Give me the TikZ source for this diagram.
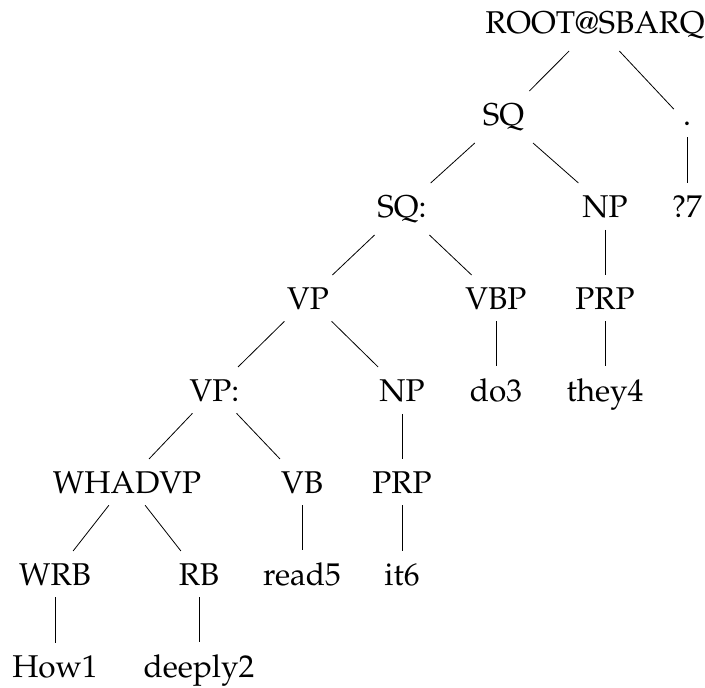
\documentclass[tikz,border=0pt]{standalone}
\usepackage[T1]{fontenc}
\usepackage{mathpazo}
\begin{document}
\begin{tikzpicture}[x=1pt,y=-1pt,
  tn/.style={anchor=base, inner sep=12pt, font=\fontsize{31.5}{38}\selectfont},
  br/.style={line width=0.8pt}]
\useasboundingbox (0,0) rectangle (705,688);
\node[tn] (root) at (595,33) {ROOT@SBARQ};
\node[tn] (sq) at (503.5,125) {SQ};
\node[tn] (dot) at (687,125) {.};
\node[tn] (sqc) at (402,217) {SQ:};
\node[tn] (np1) at (605,217) {NP};
\node[tn] (q7) at (687,217) {?7};
\node[tn] (vp) at (308,309) {VP};
\node[tn] (vbp) at (496,309) {VBP};
\node[tn] (prp1) at (605,309) {PRP};
\node[tn] (vpc) at (214.5,401) {VP:};
\node[tn] (np2) at (402,401) {NP};
\node[tn] (do3) at (496,401) {do3};
\node[tn] (they4) at (605,401) {they4};
\node[tn] (whadvp) at (127,493) {WHADVP};
\node[tn] (vb) at (302,493) {VB};
\node[tn] (prp2) at (402,493) {PRP};
\node[tn] (wrb) at (55,585) {WRB};
\node[tn] (rb) at (199,585) {RB};
\node[tn] (read5) at (302,585) {read5};
\node[tn] (it6) at (402,585) {it6};
\node[tn] (how1) at (55,677) {How1};
\node[tn] (deeply2) at (199,677) {deeply2};
\draw[br] (root) -- (sq);
\draw[br] (root) -- (dot);
\draw[br] (dot) -- (q7);
\draw[br] (sq) -- (sqc);
\draw[br] (sq) -- (np1);
\draw[br] (np1) -- (prp1);
\draw[br] (prp1) -- (they4);
\draw[br] (sqc) -- (vp);
\draw[br] (sqc) -- (vbp);
\draw[br] (vbp) -- (do3);
\draw[br] (vp) -- (vpc);
\draw[br] (vp) -- (np2);
\draw[br] (np2) -- (prp2);
\draw[br] (prp2) -- (it6);
\draw[br] (vpc) -- (whadvp);
\draw[br] (vpc) -- (vb);
\draw[br] (vb) -- (read5);
\draw[br] (whadvp) -- (wrb);
\draw[br] (whadvp) -- (rb);
\draw[br] (wrb) -- (how1);
\draw[br] (rb) -- (deeply2);
\end{tikzpicture}
\end{document}
